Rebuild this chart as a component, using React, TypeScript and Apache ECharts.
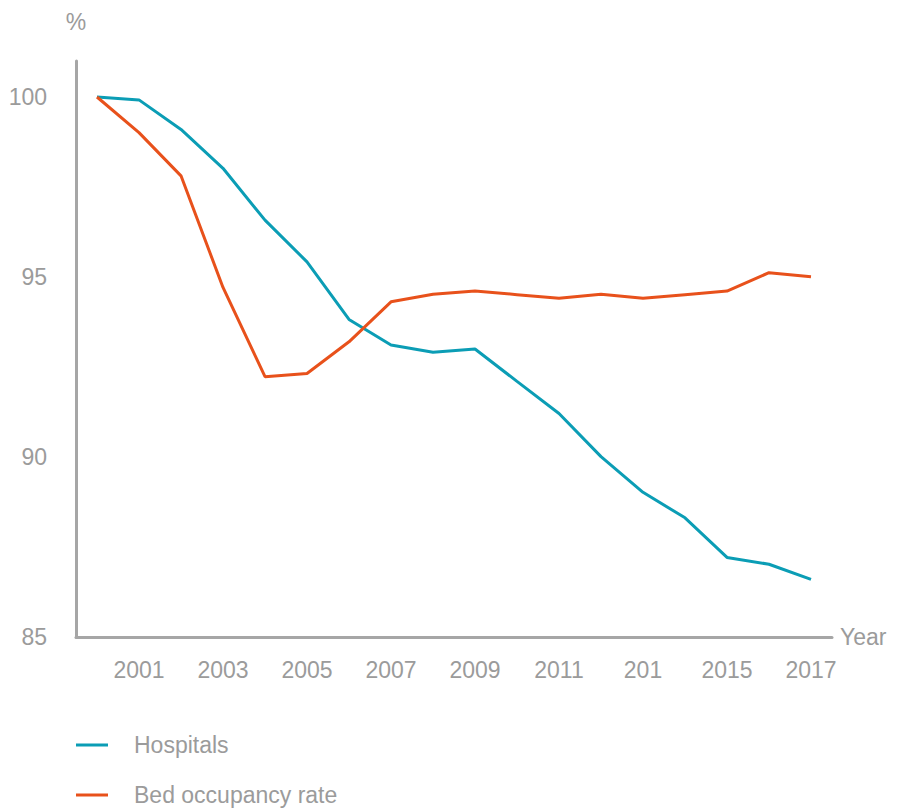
import React, { useEffect, useRef } from "react";
import * as echarts from "echarts";

const years = ["2000","2001","2002","2003","2004","2005","2006","2007","2008","2009","2010","2011","2012","2013","2014","2015","2016","2017"];
const xTickLabels = ["","2001","","2003","","2005","","2007","","2009","","2011","","201","","2015","","2017"];
const hospitals = [100, 99.92, 99.1, 98.02, 96.58, 95.42, 93.82, 93.11, 92.91, 93.0, 92.1, 91.21, 90.01, 89.02, 88.31, 87.21, 87.02, 86.6];
const bedOccupancy = [100, 99.01, 97.81, 94.71, 92.23, 92.32, 93.2, 94.31, 94.52, 94.61, 94.51, 94.41, 94.52, 94.41, 94.51, 94.61, 95.12, 95.01];
const yTicks = [85, 90, 95, 100];

const GRAY = "#9b9b9b";
const AXIS = "#a6a6a6";
const FONT = "Liberation Sans, Arial, sans-serif";
const FS = 23;

export default function App() {
  const ref = useRef<HTMLDivElement>(null);
  useEffect(() => {
    if (!ref.current) return;
    const chart = echarts.init(ref.current, undefined, { renderer: "svg" });
    chart.setOption({
      animation: false,
      textStyle: { fontFamily: FONT },
      grid: { left: 76, right: 66, top: 61, bottom: 171, containLabel: false },
      legend: {
        orient: "vertical",
        left: 76,
        top: 732,
        padding: 0,
        itemWidth: 32,
        itemHeight: 3,
        itemGap: 24,
        icon: "rect",
        textStyle: { color: GRAY, fontSize: FS, fontFamily: FONT, lineHeight: 26, padding: [0, 0, 0, 21] },
        data: ["Hospitals", "Bed occupancy rate"],
      },
      xAxis: {
        type: "category",
        data: years,
        boundaryGap: true,
        name: "Year",
        nameLocation: "end",
        nameGap: 8,
        nameTextStyle: { color: GRAY, fontSize: FS, fontFamily: FONT, align: "left", verticalAlign: "middle", padding: [10, 0, 0, 0] },
        axisLine: { lineStyle: { color: AXIS, width: 3 } },
        axisTick: { show: false },
        axisLabel: {
          interval: 0,
          color: GRAY,
          fontSize: FS,
          fontFamily: FONT,
          margin: 21,
          formatter: (_v: string, idx: number) => xTickLabels[idx],
        },
        splitLine: { show: false },
      },
      yAxis: {
        type: "value",
        min: 85,
        max: 101,
        interval: 5,
        name: "%",
        nameLocation: "end",
        nameGap: 28,
        nameTextStyle: { color: GRAY, fontSize: FS, fontFamily: FONT, align: "center" },
        axisLine: { show: true, lineStyle: { color: AXIS, width: 3 } },
        axisTick: { show: false },
        splitLine: { show: false },
        axisLabel: {
          color: GRAY,
          fontSize: FS,
          fontFamily: FONT,
          margin: 29,
          formatter: (v: number) => (yTicks.includes(v) ? String(v) : ""),
        },
      },
      series: [
        {
          name: "Hospitals",
          type: "line",
          data: hospitals,
          symbol: "none",
          lineStyle: { color: "#0b9db5", width: 3 },
          itemStyle: { color: "#0b9db5" },
        },
        {
          name: "Bed occupancy rate",
          type: "line",
          data: bedOccupancy,
          symbol: "none",
          lineStyle: { color: "#e8511b", width: 3 },
          itemStyle: { color: "#e8511b" },
        },
      ],
    });
    return () => chart.dispose();
  }, []);
  return <div ref={ref} style={{ width: 898, height: 808, position: "absolute", left: 0, top: 0 }} />;
}
